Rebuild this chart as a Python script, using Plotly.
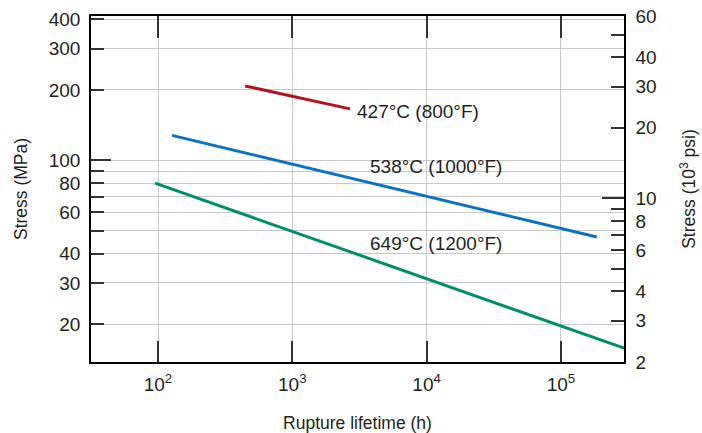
import math
import plotly.graph_objects as go

# ---- data ----
red_hours = [445, 2690]
red_stress = [208, 166]
blue_hours = [127, 185000]
blue_stress = [128, 47.1]
green_hours = [95, 295000]
green_stress = [80, 15.8]

labels = ["427°C (800°F)", "538°C (1000°F)", "649°C (1200°F)"]
label_hours = [2930, 3660, 3660]
label_stress = [162.6, 93.8, 44.0]

x_tickvals = [1e2, 1e3, 1e4, 1e5]
x_ticktext = ["10<sup>2</sup>", "10<sup>3</sup>", "10<sup>4</sup>", "10<sup>5</sup>"]
mpa_ticks = [20, 30, 40, 60, 80, 100, 200, 300, 400]
mpa_minor = [50, 70, 90]
ksi_ticks = [2, 3, 4, 6, 8, 10, 20, 30, 40, 60]
ksi_minor = [5, 7, 9, 50]

KSI_TO_MPA = 6.894757
ksi_range = [2, 60]
mpa_range = [v * KSI_TO_MPA for v in ksi_range]
x_range = [31.7, 2.95e5]

FONT = "Liberation Sans"
TXT = "#231f20"
GRID = "#c8c8c8"
TICKC = "#333333"

fig = go.Figure()
fig.add_trace(go.Scatter(x=red_hours, y=red_stress, mode="lines",
                         line=dict(color="#b5121b", width=3), showlegend=False))
fig.add_trace(go.Scatter(x=blue_hours, y=blue_stress, mode="lines",
                         line=dict(color="#0a72c6", width=3), showlegend=False))
fig.add_trace(go.Scatter(x=green_hours, y=green_stress, mode="lines",
                         line=dict(color="#008f6b", width=3), showlegend=False))
# empty traces to activate the extra axes
for xa, ya in [("x", "y2"), ("x", "y3"), ("x", "y4"), ("x", "y5"), ("x", "y6"), ("x2", "y")]:
    fig.add_trace(go.Scatter(x=[None], y=[None], xaxis=xa, yaxis=ya,
                             showlegend=False, hoverinfo="skip"))

for t, hx, sy in zip(labels, label_hours, label_stress):
    fig.add_annotation(x=math.log10(hx), y=math.log10(sy), text=t, showarrow=False,
                       xanchor="left", yanchor="middle",
                       font=dict(family=FONT, size=19, color=TXT))

lr = [math.log10(v) for v in mpa_range]
kr = [math.log10(v) for v in ksi_range]
xr = [math.log10(v) for v in x_range]


def tick_axis(rng, side, vals, length, grid=False):
    return dict(type="log", range=rng, overlaying="y", side=side, anchor="x",
                tickvals=vals, ticks="inside", ticklen=length, tickwidth=1.5,
                tickcolor=TICKC, showticklabels=False, showgrid=grid,
                gridcolor=GRID, gridwidth=1, zeroline=False, showline=False,
                automargin=False)


fig.update_layout(
    width=702, height=433,
    margin=dict(l=91, r=78, t=16, b=71),
    paper_bgcolor="white", plot_bgcolor="white",
    font=dict(family=FONT, size=19, color=TXT),
    xaxis=dict(type="log", range=xr, tickvals=x_tickvals, ticktext=x_ticktext,
               ticks="inside", ticklen=21, tickwidth=1.5, tickcolor=TICKC,
               showline=True, linecolor="black", linewidth=1.5,
               showgrid=True, gridcolor=GRID, gridwidth=1, zeroline=False,
               automargin=False, ticklabelstandoff=4,
               title=dict(text="Rupture lifetime (h)", font=dict(size=17.5), standoff=24)),
    xaxis2=dict(type="log", range=xr, overlaying="x", side="top", anchor="y",
                tickvals=x_tickvals, showticklabels=False,
                ticks="inside", ticklen=22, tickwidth=1.5, tickcolor=TICKC,
                showline=True, linecolor="black", linewidth=1.5,
                showgrid=False, zeroline=False, automargin=False),
    yaxis=dict(type="log", range=lr, tickvals=mpa_ticks,
               ticktext=[str(v) for v in mpa_ticks],
               ticks="inside", ticklen=13, tickwidth=1.5, tickcolor=TICKC,
               showline=True, linecolor="black", linewidth=1.5,
               showgrid=True, gridcolor=GRID, gridwidth=1, zeroline=False,
               automargin=False, ticklabelstandoff=5,
               title=dict(text="Stress (MPa)", font=dict(size=17.5), standoff=17)),
    yaxis2=dict(type="log", range=kr, overlaying="y", side="right", anchor="x",
                tickvals=ksi_ticks, ticktext=[str(v) for v in ksi_ticks],
                ticks="inside", ticklen=13, tickwidth=1.5, tickcolor=TICKC,
                showline=True, linecolor="black", linewidth=1.5,
                showgrid=False, zeroline=False, automargin=False, ticklabelstandoff=6,
                title=dict(text="Stress (10<sup>3</sup> psi)", font=dict(size=17.5), standoff=27)),
    yaxis3=tick_axis(lr, "left", [100], 20),
    yaxis4=tick_axis(kr, "right", [10], 22),
    yaxis5=tick_axis(lr, "left", mpa_minor, 13, grid=True),
    yaxis6=tick_axis(kr, "right", ksi_minor, 13),
)

fig.write_html("out.html", config={"displayModeBar": False},
               post_script="document.body.style.margin='0';")
